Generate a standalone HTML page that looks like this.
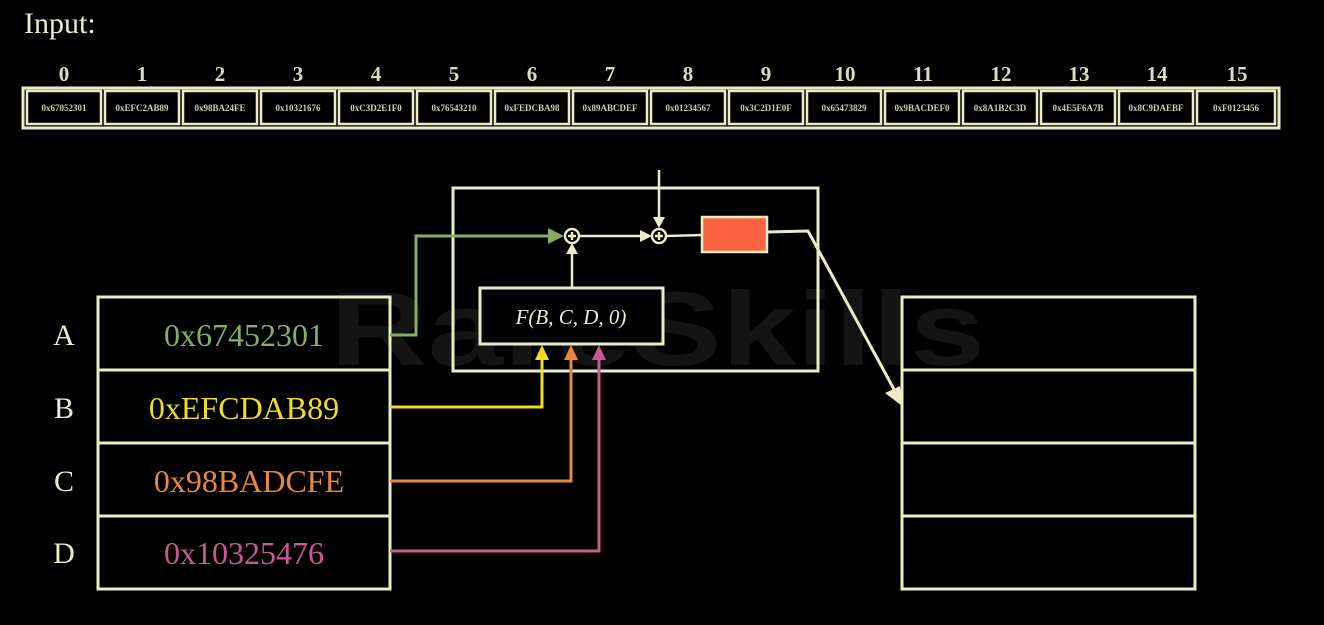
<!DOCTYPE html>
<html><head><meta charset="utf-8"><style>
html,body{margin:0;padding:0;background:#000;width:1324px;height:625px;overflow:hidden}
svg{display:block}
text{font-family:"Liberation Serif",serif}
</style></head><body>
<svg width="1324" height="625" viewBox="0 0 1324 625" xmlns="http://www.w3.org/2000/svg">
<rect width="1324" height="625" fill="#000"/>
<text x="330" y="365" font-weight="bold" font-size="105" fill="#141414" textLength="655" lengthAdjust="spacingAndGlyphs" style="font-family:'Liberation Sans',sans-serif">RareSkills</text>
<text x="24" y="33" font-size="30" fill="#ecebd0">Input:</text>
<rect x="23" y="88" width="1256" height="40" fill="none" stroke="#ecebc8" stroke-width="3"/>
<g fill="#000" stroke="#ecebc8" stroke-width="2.5">
<rect x="27" y="91" width="74" height="33"/><rect x="105" y="91" width="74" height="33"/><rect x="183" y="91" width="74" height="33"/><rect x="261" y="91" width="74" height="33"/>
<rect x="339" y="91" width="74" height="33"/><rect x="417" y="91" width="74" height="33"/><rect x="495" y="91" width="74" height="33"/><rect x="573" y="91" width="74" height="33"/>
<rect x="651" y="91" width="74" height="33"/><rect x="729" y="91" width="74" height="33"/><rect x="807" y="91" width="74" height="33"/><rect x="885" y="91" width="74" height="33"/>
<rect x="963" y="91" width="74" height="33"/><rect x="1041" y="91" width="74" height="33"/><rect x="1119" y="91" width="74" height="33"/><rect x="1197" y="91" width="78" height="33"/>
</g>
<g fill="#dcdbc0" font-size="21" font-weight="bold" text-anchor="middle">
<text x="64" y="81">0</text><text x="142" y="81">1</text><text x="220" y="81">2</text><text x="298" y="81">3</text>
<text x="376" y="81">4</text><text x="454" y="81">5</text><text x="532" y="81">6</text><text x="610" y="81">7</text>
<text x="688" y="81">8</text><text x="766" y="81">9</text><text x="845" y="81">10</text><text x="923" y="81">11</text>
<text x="1001" y="81">12</text><text x="1079" y="81">13</text><text x="1157" y="81">14</text><text x="1237" y="81">15</text>
</g>
<g fill="#cfcdb0" font-size="9" font-weight="bold" text-anchor="middle">
<text x="64" y="111">0x67052301</text><text x="142" y="111">0xEFC2AB89</text><text x="220" y="111">0x98BA24FE</text><text x="298" y="111">0x10321676</text>
<text x="376" y="111">0xC3D2E1F0</text><text x="454" y="111">0x76543210</text><text x="532" y="111">0xFEDCBA98</text><text x="610" y="111">0x89ABCDEF</text>
<text x="688" y="111">0x01234567</text><text x="766" y="111">0x3C2D1E0F</text><text x="844" y="111">0x65473829</text><text x="922" y="111">0x9BACDEF0</text>
<text x="1000" y="111">0x8A1B2C3D</text><text x="1078" y="111">0x4E5F6A7B</text><text x="1156" y="111">0x8C9DAEBF</text><text x="1236" y="111">0xF0123456</text>
</g>
<g fill="none" stroke="#ecebc8" stroke-width="3">
<rect x="98" y="297" width="292" height="292"/>
<line x1="98" y1="370" x2="390" y2="370"/><line x1="98" y1="443" x2="390" y2="443"/><line x1="98" y1="516" x2="390" y2="516"/>
<rect x="902" y="297" width="293" height="292"/>
<line x1="902" y1="370" x2="1195" y2="370"/><line x1="902" y1="443" x2="1195" y2="443"/><line x1="902" y1="516" x2="1195" y2="516"/>
<rect x="453" y="188" width="365" height="183"/>
<rect x="480" y="288" width="183" height="56" fill="#000"/>
</g>
<g fill="#ecebd0" font-size="30" text-anchor="middle">
<text x="64" y="345">A</text><text x="64" y="418">B</text><text x="64" y="491">C</text><text x="64" y="563">D</text>
</g>
<g font-size="32" text-anchor="middle">
<text x="244" y="346" fill="#8aab68">0x67452301</text>
<text x="244" y="419" fill="#eedd22">0xEFCDAB89</text>
<text x="249" y="492" fill="#e8883a">0x98BADCFE</text>
<text x="244" y="564" fill="#c65a96">0x10325476</text>
</g>
<text x="571" y="324" font-size="21" font-style="italic" fill="#ecebd0" text-anchor="middle">F(B, C, D, 0)</text>
<g fill="none" stroke-width="3">
<polyline points="390,335 416,335 416,236 552,236" stroke="#8aab68"/>
<polyline points="390,407 542,407 542,356" stroke="#eedd22"/>
<polyline points="390,481 571,481 571,356" stroke="#e8883a"/>
<polyline points="390,551 599,551 599,356" stroke="#c65a96"/>
</g>
<polygon points="564,236 548,228 548,244" fill="#8aab68"/>
<polygon points="542,345 535,360 549,360" fill="#eedd22"/>
<polygon points="571,345 564,360 578,360" fill="#e8883a"/>
<polygon points="599,345 592,360 606,360" fill="#c65a96"/>
<g fill="none" stroke="#ecebc8" stroke-width="2.5">
<circle cx="572" cy="236" r="7"/><line x1="568" y1="236" x2="576" y2="236"/><line x1="572" y1="232" x2="572" y2="240"/>
<circle cx="659" cy="236" r="7"/><line x1="655" y1="236" x2="663" y2="236"/><line x1="659" y1="232" x2="659" y2="240"/>
<line x1="572" y1="288" x2="572" y2="252"/>
<line x1="579" y1="236" x2="642" y2="236"/>
<line x1="659" y1="170" x2="659" y2="220"/>
<line x1="666" y1="236" x2="703" y2="235"/>
<polyline points="767,232 808,231 896,393" stroke-width="3"/>
</g>
<polygon points="572,243 566,254 578,254" fill="#ecebc8"/>
<polygon points="652,236 640,230 640,242" fill="#ecebc8"/>
<polygon points="659,228 653,217 665,217" fill="#ecebc8"/>
<polygon points="902,406 885,393 900,386" fill="#ecebc8"/>
<rect x="702" y="217" width="65" height="35" fill="#fb6440" stroke="#ecebc8" stroke-width="2.5"/>
</svg>
</body></html>
